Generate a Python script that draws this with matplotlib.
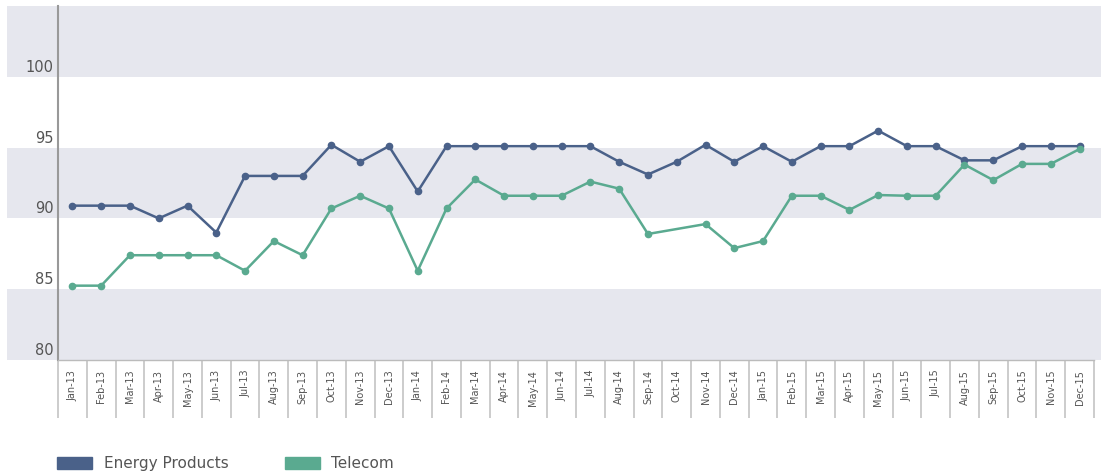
import numpy as np
import matplotlib
matplotlib.use("Agg")
import matplotlib.pyplot as plt
import matplotlib.transforms as mtransforms
from matplotlib.patches import Patch

# month labels, Jan-13 .. Dec-15
months = ["Jan", "Feb", "Mar", "Apr", "May", "Jun",
          "Jul", "Aug", "Sep", "Oct", "Nov", "Dec"]
years = ["13", "14", "15"]
labels = [m + "-" + y for y in years for m in months]

# values
energy = [90.9, 90.9, 90.9, 90.0, 90.9, 89.0, 93.0, 93.0, 93.0, 95.2, 94.0, 95.1,
          91.9, 95.1, 95.1, 95.1, 95.1, 95.1, 95.1, 94.0, 93.1, 94.0, 95.2, 94.0,
          95.1, 94.0, 95.1, 95.1, 96.2, 95.1, 95.1, 94.1, 94.1, 95.1, 95.1, 95.1]
telecom = [85.25, 85.25, 87.4, 87.4, 87.4, 87.4, 86.3, 88.4, 87.4, 90.7, 91.6, 90.7,
           86.3, 90.7, 92.75, 91.6, 91.6, 91.6, 92.6, 92.1, 88.9, np.nan, 89.6, 87.9,
           88.4, 91.6, 91.6, 90.6, 91.65, 91.6, 91.6, 93.8, 92.7, 93.85, 93.85, 94.9]

y_ticks = [80, 85, 90, 95, 100]
band_edges = [(80, 85), (90, 95), (100, 105)]

c_energy = "#4a6189"
c_telecom = "#5aaa90"
c_band = "#e6e7ee"
c_text = "#555555"

fig = plt.figure(figsize=(11.01, 4.75), dpi=100)
W, H = 1101, 475
ax = fig.add_axes([58 / W, (H - 360) / H, (1094 - 58) / W, (360 - 6) / H])

# gray bands reach past the axes on both sides
x0 = (7 - 58) / (1094 - 58)
x1 = (1101 - 58) / (1094 - 58)
for lo, hi in band_edges:
    ax.axhspan(lo, hi, xmin=x0, xmax=x1, color=c_band, lw=0, zorder=0, clip_on=False)

x = np.arange(len(labels))
e = np.array(energy)
t = np.array(telecom)
me = ~np.isnan(e)
mt = ~np.isnan(t)
ax.plot(x[me], e[me], "-o", color=c_energy, lw=1.8, ms=4.5, zorder=3)
ax.plot(x[mt], t[mt], "-o", color=c_telecom, lw=1.8, ms=4.5, zorder=3)

ax.set_xlim(-0.5, len(labels) - 0.5)
ax.set_ylim(80, 105)

# spines
for s in ["top", "right"]:
    ax.spines[s].set_visible(False)
ax.spines["left"].set_color("#999999")
ax.spines["left"].set_linewidth(1.5)
ax.spines["bottom"].set_color("#bbbbbb")
ax.spines["bottom"].set_linewidth(1.0)

# y ticks: labels sit a bit above their gridline
ax.set_yticks(y_ticks)
ax.set_yticklabels([str(v) for v in y_ticks])
ax.tick_params(axis="y", length=0, pad=3, labelsize=10.5, labelcolor=c_text)
offset = mtransforms.ScaledTranslation(0, 0.11, fig.dpi_scale_trans)
for lab in ax.get_yticklabels():
    lab.set_transform(lab.get_transform() + offset)

# x ticks: labels centred, separators as minor ticks
ax.set_xticks(x)
ax.set_xticklabels(labels, rotation=90)
ax.tick_params(axis="x", which="major", length=0, pad=7, labelsize=7, labelcolor=c_text)
ax.set_xticks(np.arange(len(labels) + 1) - 0.5, minor=True)
ax.tick_params(axis="x", which="minor", length=42, width=1.2, color="#c4c4c4", direction="out")

handles = [Patch(color=c_energy, label="Energy Products"),
           Patch(color=c_telecom, label="Telecom")]
fig.legend(handles=handles, loc="lower left", bbox_to_anchor=(57 / W, 4 / H),
           ncol=2, frameon=False, fontsize=11, labelcolor=c_text,
           handlelength=2.3, handleheight=0.8, handletextpad=0.75,
           columnspacing=3.7, borderpad=0, borderaxespad=0)

fig.savefig("out.png", dpi=100)
